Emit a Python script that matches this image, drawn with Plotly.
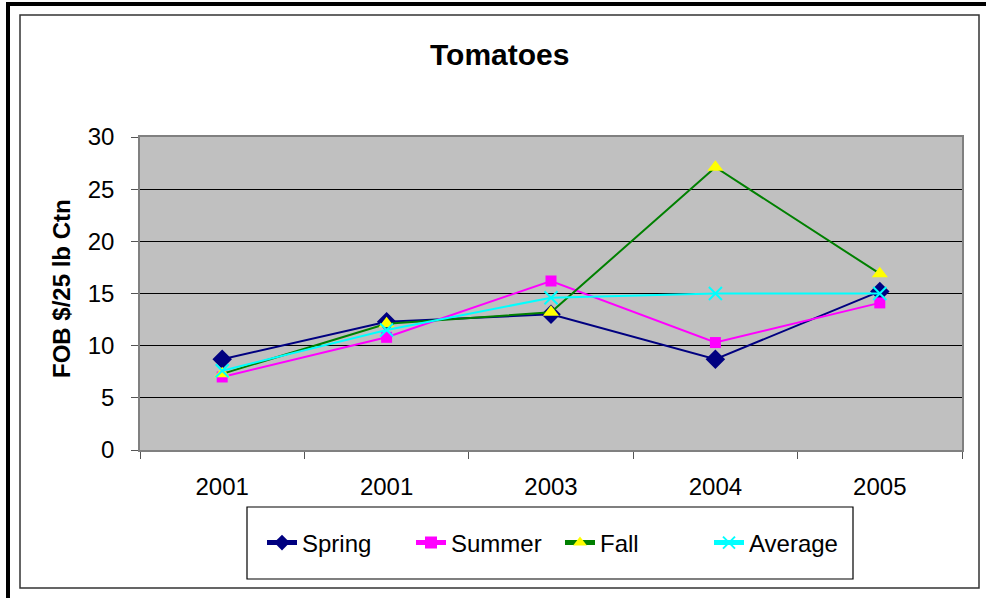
import plotly.graph_objects as go

categories = ["2001", "2001", "2003", "2004", "2005"]
spring = [8.7, 12.3, 13.0, 8.7, 15.2]
summer = [7.0, 10.8, 16.2, 10.3, 14.1]
fall = [7.3, 12.1, 13.2, 27.1, 16.9]
average = [7.6, 11.5, 14.6, 15.0, 15.0]

W, H = 986, 598
L, R, T, B = 140, 962, 137, 450
pw, ph = R - L, B - T

def px_x(p):
    return (p - L) / pw

def px_y(p):
    return (B - p) / ph

xs = list(range(len(categories)))
FONT = "Liberation Sans, Arial, sans-serif"

fig = go.Figure()
series = [
    ("Spring", spring, "#000080", dict(symbol="diamond", size=15, color="#000080")),
    ("Summer", summer, "#FF00FF", dict(symbol="square", size=11, color="#FF00FF")),
    ("Fall", fall, "#008000", dict(symbol="triangle-up", size=14, color="#FFFF00")),
    ("Average", average, "#00FFFF", dict(symbol="x-thin", size=13, color="#00FFFF",
                                          line=dict(color="#00FFFF", width=2))),
]
for name, vals, lc, mk in series:
    fig.add_trace(go.Scatter(x=xs, y=vals, name=name, mode="lines+markers",
                             line=dict(color=lc, width=2), marker=mk))

fig.update_layout(
    width=W, height=H,
    margin=dict(l=L, r=W - R, t=T, b=H - B, autoexpand=False),
    paper_bgcolor="white", plot_bgcolor="#C0C0C0",
    font=dict(family=FONT, size=24, color="black"),
    showlegend=True,
    legend=dict(orientation="h", x=px_x(262), y=px_y(543), xanchor="left", yanchor="middle",
                bgcolor="rgba(0,0,0,0)", borderwidth=0, font=dict(size=24),
                itemsizing="constant", tracegroupgap=0,
                entrywidth=104, entrywidthmode="pixels"),
)

fig.update_xaxes(
    range=[-0.5, 4.5], tickmode="array", tickvals=xs, ticktext=categories,
    ticks="outside", ticklen=7, tickcolor="rgba(0,0,0,0)", ticklabelstandoff=7,
    showgrid=False, zeroline=False,
    showline=True, linecolor="#808080", linewidth=1.5, mirror=True,
    minor=dict(tickmode="array", tickvals=[i - 0.5 for i in range(len(categories) + 1)],
               ticks="outside", ticklen=7, tickcolor="#555555", showgrid=False),
    tickfont=dict(size=24),
)
fig.update_yaxes(
    range=[0, 30], tickmode="array", tickvals=[0, 5, 10, 15, 20, 25, 30],
    ticks="outside", ticklen=7, tickcolor="#555555", ticklabelstandoff=12,
    showgrid=True, gridcolor="black", gridwidth=1.2, zeroline=False,
    showline=True, linecolor="#808080", linewidth=1.5, mirror=True,
    tickfont=dict(size=24),
)

# Title and axis title
fig.add_annotation(text="<b>Tomatoes</b>", xref="paper", yref="paper",
                   x=px_x(499), y=px_y(55), xanchor="center", yanchor="middle",
                   showarrow=False, font=dict(size=30))
fig.add_annotation(text="<b>FOB $/25 lb Ctn</b>", xref="paper", yref="paper",
                   x=px_x(61), y=px_y(289), xanchor="center", yanchor="middle",
                   textangle=-90, showarrow=False, font=dict(size=24))

# Legend box
fig.add_shape(type="rect", xref="paper", yref="paper",
              x0=px_x(247), x1=px_x(853), y0=px_y(507), y1=px_y(579),
              line=dict(color="black", width=1.2), fillcolor="rgba(0,0,0,0)")
# Outer frames
fig.add_shape(type="rect", xref="paper", yref="paper",
              x0=px_x(20), x1=px_x(979), y0=px_y(15), y1=px_y(588),
              line=dict(color="#333333", width=1.5), fillcolor="rgba(0,0,0,0)")
fig.add_shape(type="line", xref="paper", yref="paper",
              x0=px_x(8), x1=px_x(8), y0=px_y(2), y1=px_y(600),
              line=dict(color="black", width=4))
fig.add_shape(type="line", xref="paper", yref="paper",
              x0=px_x(6), x1=px_x(990), y0=px_y(4), y1=px_y(4),
              line=dict(color="black", width=4))

fig.write_html("out.html", config={"displayModeBar": False},
               post_script="document.body.style.margin='0';")
